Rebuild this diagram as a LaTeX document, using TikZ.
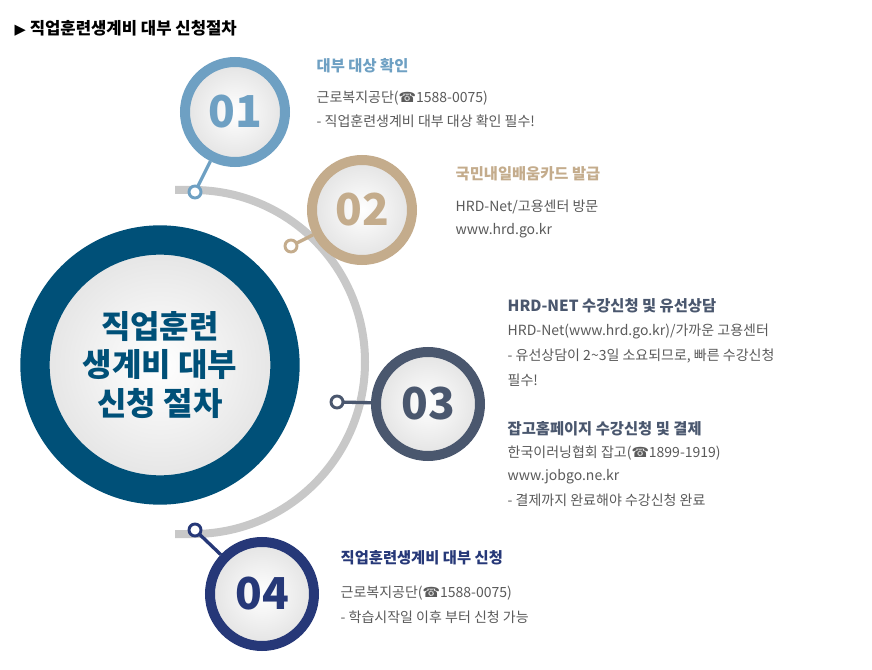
\documentclass[tikz,border=0pt]{standalone}
\usepackage{fontspec}
\setmainfont{Noto Sans CJK KR}
\newfontfamily\dv{DejaVu Sans}
\definecolor{cA}{RGB}{110,160,195}
\definecolor{cB}{RGB}{196,172,140}
\definecolor{cC}{RGB}{74,87,110}
\definecolor{cD}{RGB}{38,56,120}
\definecolor{cBig}{RGB}{0,80,120}
\definecolor{txt}{RGB}{90,90,90}
\definecolor{arcg}{RGB}{200,200,200}
\newcommand{\tel}{{\dv\char"260E}}
\begin{document}
\begin{tikzpicture}[x=0.75pt,y=-0.75pt,
  inner/.style={circle,inner color=white,outer color=gray!22,inner sep=0pt},
  dot/.style={circle,draw=#1,fill=white,line width=2.2pt,minimum size=9pt,inner sep=0pt},
  num/.style={font=\fontsize{33}{33}\bfseries\selectfont,text=#1},
  ttl/.style={anchor=west,font=\fontsize{11.5}{13}\bfseries\selectfont,text=#1},
  bod/.style={anchor=west,font=\fontsize{10.5}{12}\selectfont,text=txt}]
\useasboundingbox (0,0) rectangle (872,670);
\fill[white] (0,0) rectangle (872,670);
% heading
\node[anchor=west,font=\fontsize{12.5}{14}\bfseries\selectfont] (head) at (10,28) {{\dv\fontsize{11}{12}\selectfont▶}\ 직업훈련생계비 대부 신청절차};
% gray arc
\coordinate (arcS) at (175,190);
\coordinate (arcE) at (175,534);
\draw[arcg,line width=6pt] (arcS) -- (193,190) arc[start angle=-90,end angle=90,radius=172] -- (arcE);
% big circle
\node[inner,minimum size=250*0.75pt,draw=cBig,line width=22pt] (big) at (160,365) {};
\node[font=\fontsize{24}{29}\bfseries\selectfont,text=cBig,align=center] (bigt) at (160,365) {직업훈련\\생계비 대부\\신청 절차};
% circles
\node[inner,minimum size=100*0.75pt,draw=cA,line width=7.5pt] (c1) at (235,112) {};
\node[num=cA] (n1) at (c1) {01};
\node[inner,minimum size=100*0.75pt,draw=cB,line width=7.5pt] (c2) at (362,210) {};
\node[num=cB] (n2) at (c2) {02};
\node[inner,minimum size=104*0.75pt,draw=cC,line width=7.5pt] (c3) at (428,404) {};
\node[num=cC] (n3) at (c3) {03};
\node[inner,minimum size=104*0.75pt,draw=cD,line width=7.5pt] (c4) at (262,594) {};
\node[num=cD] (n4) at (c4) {04};
% connectors and dots
\draw[cA,line width=2.5pt] (195,192) -- (c1);
\draw[cB,line width=2.5pt] (291,246) -- (c2);
\draw[cC,line width=2.5pt] (337,402) -- (c3);
\draw[cD,line width=2.5pt] (195,530) -- (c4);
\node[dot=cA] (d1) at (195,192) {};
\node[dot=cB] (d2) at (291,246) {};
\node[dot=cC] (d3) at (337,402) {};
\node[dot=cD] (d4) at (195,530) {};
% texts
\node[ttl=cA] (t1) at (312,66) {대부 대상 확인};
\node[bod] (b1a) at (312,98) {근로복지공단(\tel1588-0075)};
\node[bod] (b1b) at (312,121) {- 직업훈련생계비 대부 대상 확인 필수!};
\node[ttl=cB] (t2) at (451,174) {국민내일배움카드 발급};
\node[bod] (b2a) at (451,207) {HRD-Net/고용센터 방문};
\node[bod] (b2b) at (451,231) {www.hrd.go.kr};
\node[ttl=cC] (t3) at (503,306) {HRD-NET 수강신청 및 유선상담};
\node[bod] (b3a) at (503,331) {HRD-Net(www.hrd.go.kr)/가까운 고용센터};
\node[bod] (b3b) at (503,356) {- 유선상담이 2\textasciitilde3일 소요되므로, 빠른 수강신청};
\node[bod] (b3c) at (503,380) {필수!};
\node[ttl=cC] (t3b) at (503,429) {잡고홈페이지 수강신청 및 결제};
\node[bod] (b3d) at (503,453) {한국이러닝협회 잡고(\tel1899-1919)};
\node[bod] (b3e) at (503,477) {www.jobgo.ne.kr};
\node[bod] (b3f) at (503,500) {- 결제까지 완료해야 수강신청 완료};
\node[ttl=cD] (t4) at (336,558) {직업훈련생계비 대부 신청};
\node[bod] (b4a) at (336,593) {근로복지공단(\tel1588-0075)};
\node[bod] (b4b) at (336,617) {- 학습시작일 이후 부터 신청 가능};
\end{tikzpicture}
\end{document}
